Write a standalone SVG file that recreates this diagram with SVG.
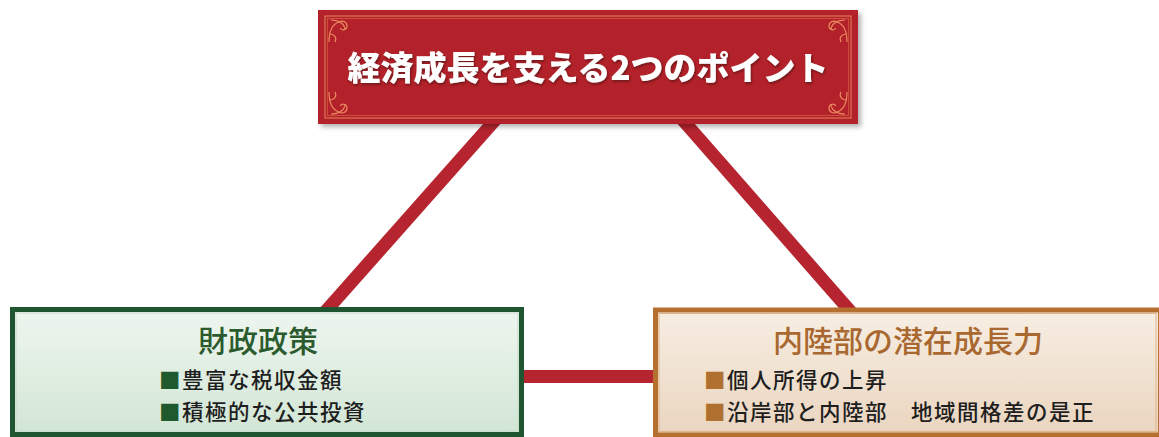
<svg xmlns="http://www.w3.org/2000/svg" width="1159" height="437" viewBox="0 0 1159 437">
  <style>
    .conn { stroke: #b5242f; stroke-width: 13; fill: none; stroke-linecap: butt; }
    .title { font-family: "Noto Sans CJK JP", "Noto Sans", sans-serif; font-weight: 900; font-size: 33px; fill: #ffffff; text-anchor: middle; }
    .head { font-family: "Noto Sans CJK JP", "Noto Sans", sans-serif; font-weight: 500; font-size: 30px; text-anchor: middle; }
    .item { font-family: "Noto Sans CJK JP", "Noto Sans", sans-serif; font-weight: 500; font-size: 21.5px; letter-spacing: 1.5px; fill: #1e1e1e; }
    .orn { fill: none; stroke: #e8895f; stroke-width: 1.2; }
  </style>
  <defs>
    <linearGradient id="gGreen" x1="0" y1="0" x2="0" y2="1">
      <stop offset="0" stop-color="#eef6ef"/>
      <stop offset="1" stop-color="#d2e6d5"/>
    </linearGradient>
    <linearGradient id="gBeige" x1="0" y1="0" x2="0" y2="1">
      <stop offset="0" stop-color="#f7eee3"/>
      <stop offset="1" stop-color="#ead5bf"/>
    </linearGradient>
    <filter id="shadow" x="-5%" y="-10%" width="112%" height="130%">
      <feDropShadow dx="3" dy="3" stdDeviation="2.5" flood-color="#000000" flood-opacity="0.3"/>
    </filter>
    <filter id="tshadow" x="-5%" y="-20%" width="110%" height="140%">
      <feDropShadow dx="1" dy="1.5" stdDeviation="1" flood-color="#4a0a0e" flood-opacity="0.7"/>
    </filter>
    <g id="corner">
      <path class="orn" d="M0,22 C0,10 4,4 10,2 C14,0 18,2 18,6 C18,10 13,11 11,8 M2,0 C10,0 16,4 16,10 M0,14 C6,14 8,18 6,22"/>
    </g>
  </defs>

  <g id="connectors">
    <line class="conn" x1="497" y1="118" x2="325" y2="312"/>
    <line class="conn" x1="681" y1="118" x2="851" y2="312"/>
    <line class="conn" x1="518" y1="376.5" x2="658" y2="376.5"/>
  </g>

  <g id="node-top">
    <rect x="318" y="10" width="540" height="114" fill="#b3232b" filter="url(#shadow)"/>
    <rect x="325" y="16" width="526" height="102" fill="none" stroke="#e4855c" stroke-width="1"/>
    <rect x="327.5" y="18.5" width="521" height="97" fill="none" stroke="#d65a45" stroke-width="0.8"/>
    <use href="#corner" transform="translate(329,20)"/>
    <use href="#corner" transform="translate(847,20) scale(-1,1)"/>
    <use href="#corner" transform="translate(329,114) scale(1,-1)"/>
    <use href="#corner" transform="translate(847,114) scale(-1,-1)"/>
    <text class="title" x="588" y="80" filter="url(#tshadow)">経済成長を支える2つのポイント</text>
  </g>

  <g id="node-left">
    <rect x="12.5" y="309.5" width="509" height="125" fill="url(#gGreen)" stroke="#1f5530" stroke-width="5"/>
    <rect x="16" y="313" width="502" height="118" fill="none" stroke="#c5dcc8" stroke-width="1"/>
    <text class="head" x="258" y="352" fill="#2b5a2e">財政政策</text>
    <text class="item" x="159" y="388"><tspan fill="#1f5a2e">■</tspan>豊富な税収金額</text>
    <text class="item" x="159" y="419.5"><tspan fill="#1f5a2e">■</tspan>積極的な公共投資</text>
  </g>

  <g id="node-right">
    <rect x="655.5" y="310" width="505" height="125" fill="url(#gBeige)" stroke="#b5702f" stroke-width="5"/>
    <rect x="659" y="313.5" width="497" height="118" fill="none" stroke="#dfb48a" stroke-width="1"/>
    <text class="head" x="908" y="352" fill="#a8682f">内陸部の潜在成長力</text>
    <text class="item" x="704" y="388"><tspan fill="#b0702f">■</tspan>個人所得の上昇</text>
    <text class="item" x="704" y="419.5"><tspan fill="#b0702f">■</tspan>沿岸部と内陸部　地域間格差の是正</text>
  </g>
</svg>
